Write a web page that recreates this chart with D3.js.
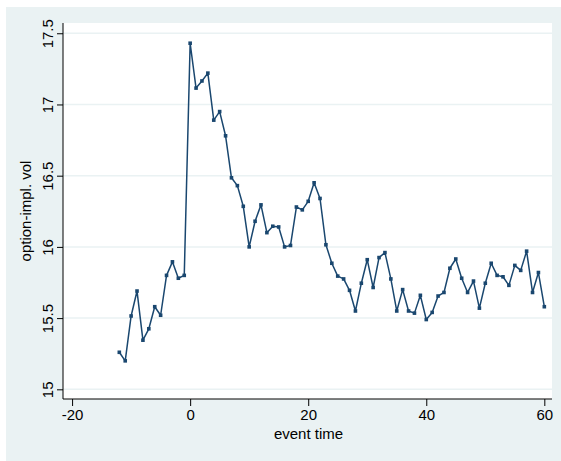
<!DOCTYPE html>
<html>
<head>
<meta charset="utf-8">
<script src="https://cdn.jsdelivr.net/npm/d3@7/dist/d3.min.js"></script>
<style>
  html, body { margin: 0; padding: 0; background: #ffffff; }
  svg { display: block; }
  text { font-family: "Liberation Sans", Arial, sans-serif; fill: #000; }
</style>
</head>
<body>
<script>
// Event window (days relative to the event)
const eventTime = d3.range(-12, 61);

// Option-implied volatility over the event window
const impliedVol = [
  15.26, 15.20, 15.515, 15.69, 15.345, 15.425, 15.58, 15.52, 15.80, 15.895,
  15.78, 15.80,
  17.43, 17.115, 17.165, 17.22, 16.89, 16.95, 16.78, 16.485, 16.43, 16.285,
  16.0, 16.18, 16.295, 16.10, 16.145, 16.14, 16.0, 16.01, 16.28, 16.26,
  16.32, 16.45, 16.34, 16.015, 15.885, 15.795, 15.775, 15.695, 15.55, 15.745,
  15.91, 15.715, 15.925, 15.96, 15.775, 15.55, 15.70, 15.55, 15.535, 15.66,
  15.49, 15.54, 15.655, 15.68, 15.85, 15.915, 15.78, 15.68, 15.76, 15.57,
  15.745, 15.885, 15.80, 15.79, 15.73, 15.87, 15.835, 15.97, 15.68, 15.82,
  15.58
];

const xTicks = [-20, 0, 20, 40, 60];
const yTicks = [15, 15.5, 16, 16.5, 17, 17.5];
const xTitle = "event time";
const yTitle = "option-impl. vol";

const W = 561, H = 461;
const plot = { left: 63, right: 552, top: 23, bottom: 399 };
const navy = "#1a476f";
const bluishGray = "#eaf2f3";

const svg = d3.select("body").append("svg")
  .attr("width", W).attr("height", H);

// outer graph region
svg.append("rect")
  .attr("x", 6).attr("y", 7).attr("width", W - 6).attr("height", H - 7)
  .attr("fill", bluishGray);

// plot region
svg.append("rect")
  .attr("x", plot.left).attr("y", plot.top)
  .attr("width", plot.right - plot.left).attr("height", plot.bottom - plot.top)
  .attr("fill", "#ffffff");

const x = d3.scaleLinear().domain([-21.54, 61.3]).range([plot.left, plot.right]);
const y = d3.scaleLinear().domain([14.932, 17.572]).range([plot.bottom, plot.top]);

// horizontal grid
svg.append("g").selectAll("line").data(yTicks).join("line")
  .attr("x1", plot.left).attr("x2", plot.right)
  .attr("y1", d => y(d)).attr("y2", d => y(d))
  .attr("stroke", bluishGray).attr("stroke-width", 1.5);

// axes (plain hyphen for negatives)
const fmtX = d => String(d);
const fmtY = d => (Number.isInteger(d) ? String(d) : d.toFixed(1));

const yAxis = svg.append("g")
  .attr("transform", `translate(${plot.left},0)`)
  .call(d3.axisLeft(y).tickValues(yTicks).tickFormat(fmtY).tickSize(6).tickPadding(4));
yAxis.select(".domain").attr("d", `M0,${plot.top}V${plot.bottom}`).attr("stroke", "#000");
yAxis.selectAll(".tick line").attr("stroke", "#000");
yAxis.selectAll(".tick text")
  .attr("x", null).attr("dy", null)
  .attr("transform", "translate(-10.5,0) rotate(-90)")
  .attr("text-anchor", "middle")
  .style("font-size", "15px")
  .style("font-family", "'Liberation Sans', Arial, sans-serif");

const xAxis = svg.append("g")
  .attr("transform", `translate(0,${plot.bottom})`)
  .call(d3.axisBottom(x).tickValues(xTicks).tickFormat(fmtX).tickSize(7).tickPadding(3));
xAxis.select(".domain").attr("d", `M${plot.left},0H${plot.right}`).attr("stroke", "#000");
xAxis.selectAll(".tick line").attr("stroke", "#000");
xAxis.selectAll(".tick text")
  .style("font-size", "15px")
  .style("font-family", "'Liberation Sans', Arial, sans-serif");

// axis titles
svg.append("text")
  .attr("x", (plot.left + plot.right) / 2 + 1).attr("y", 439)
  .attr("text-anchor", "middle")
  .style("font-size", "15px")
  .text(xTitle);

svg.append("text")
  .attr("transform", `translate(31,${(plot.top + plot.bottom) / 2}) rotate(-90)`)
  .attr("text-anchor", "middle")
  .style("font-size", "15px")
  .text(yTitle);

// series
const series = eventTime.map((t, i) => ({ t, v: impliedVol[i] }));

svg.append("path")
  .datum(series)
  .attr("fill", "none")
  .attr("stroke", navy)
  .attr("stroke-width", 1.5)
  .attr("stroke-linejoin", "round")
  .attr("d", d3.line().x(d => x(d.t)).y(d => y(d.v)));

const ms = 3.6;
svg.append("g").selectAll("rect").data(series).join("rect")
  .attr("x", d => x(d.t) - ms / 2)
  .attr("y", d => y(d.v) - ms / 2)
  .attr("width", ms).attr("height", ms)
  .attr("fill", navy);
</script>
</body>
</html>
